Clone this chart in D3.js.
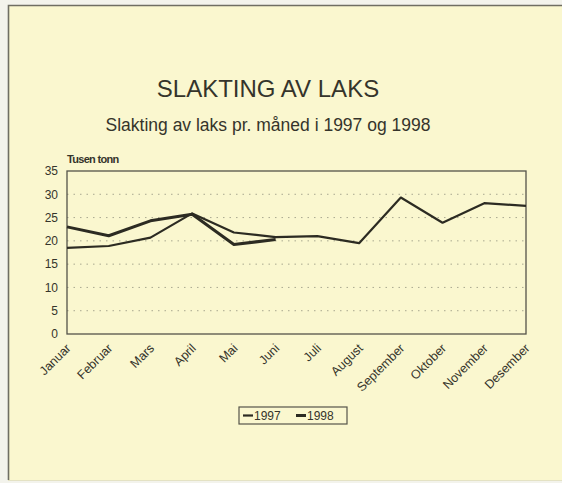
<!DOCTYPE html>
<html>
<head>
<meta charset="utf-8">
<title>Slakting av laks</title>
<script src="https://cdn.jsdelivr.net/npm/d3@7"></script>
<style>
  body { margin: 0; background: #f3f3ec; }
  text { font-family: "Liberation Sans", Arial, sans-serif; fill: #35342b; }
  .grid line { stroke: #a9a890; stroke-dasharray: 1.5 5; }
</style>
</head>
<body>
<script>
// data (tusen tonn)
var months = ["Januar", "Februar", "Mars", "April", "Mai", "Juni", "Juli",
              "August", "September", "Oktober", "November", "Desember"];
var y1997 = [18.5, 18.9, 20.7, 25.9, 21.8, 20.8, 21.0, 19.5, 29.3, 23.9, 28.1, 27.5];
var y1998 = [23.0, 21.1, 24.3, 25.7, 19.2, 20.3];
var yTicks = [0, 5, 10, 15, 20, 25, 30, 35];

var width = 562, height = 483;
var m = {left: 67, right: 526, top: 171, bottom: 334};

var svg = d3.select("body").append("svg")
    .attr("width", width).attr("height", height);

// panel: dark top and left edge, faint bottom
svg.append("rect").attr("x", 8).attr("y", 5).attr("width", width - 8).attr("height", 475)
    .attr("fill", "#faf7cf");
svg.append("path").attr("d", "M8.5,480V5.5H562")
    .attr("fill", "none").attr("stroke", "#6f6e63").attr("stroke-width", 1.6);
svg.append("line").attr("x1", 8).attr("x2", 562).attr("y1", 480.5).attr("y2", 480.5)
    .attr("stroke", "#e4e2c4").attr("stroke-width", 1);

svg.append("text").attr("x", 268).attr("y", 97).attr("text-anchor", "middle")
    .style("font-size", "24px").text("SLAKTING AV LAKS");
svg.append("text").attr("x", 268).attr("y", 131).attr("text-anchor", "middle")
    .style("font-size", "17.5px").text("Slakting av laks pr. måned i 1997 og 1998");

var x = d3.scalePoint().domain(months).range([m.left, m.right]);
var y = d3.scaleLinear().domain([0, 35]).range([m.bottom, m.top]);

// gridlines
svg.append("g").attr("class", "grid")
  .selectAll("line").data(yTicks.slice(1, -1)).enter().append("line")
    .attr("x1", m.left).attr("x2", m.right)
    .attr("y1", function(d) { return y(d); }).attr("y2", function(d) { return y(d); });

// plot frame
svg.append("rect").attr("x", m.left).attr("y", m.top)
    .attr("width", m.right - m.left).attr("height", m.bottom - m.top)
    .attr("fill", "none").attr("stroke", "#55544a").attr("stroke-width", 1.3);

// y axis
var yAxis = svg.append("g").attr("transform", "translate(" + m.left + ",0)")
    .call(d3.axisLeft(y).tickValues(yTicks).tickSize(0).tickPadding(9));
yAxis.select(".domain").remove();
yAxis.selectAll("text").style("font-size", "12px").style("fill", "#35342b");

svg.append("text").attr("x", 67).attr("y", 163)
    .style("font-size", "11px").style("font-weight", "bold").style("letter-spacing", "-0.7px")
    .text("Tusen tonn");

// x axis
var xAxis = svg.append("g").attr("transform", "translate(0," + m.bottom + ")")
    .call(d3.axisBottom(x).tickSize(0).tickPadding(0));
xAxis.select(".domain").remove();
xAxis.selectAll("text")
    .style("font-size", "12.5px").style("fill", "#35342b")
    .attr("text-anchor", "end").attr("dy", null)
    .attr("transform", "translate(4,15) rotate(-45)");

// lines
var line = d3.line()
    .x(function(d, i) { return x(months[i]); })
    .y(function(d) { return y(d); });

svg.append("path").datum(y1997).attr("d", line)
    .attr("fill", "none").attr("stroke", "#2c2b22").attr("stroke-width", 2.2)
    .attr("stroke-linejoin", "round");
svg.append("path").datum(y1998).attr("d", line)
    .attr("fill", "none").attr("stroke", "#2c2b22").attr("stroke-width", 3)
    .attr("stroke-linejoin", "round");

// legend
var lg = svg.append("g").attr("transform", "translate(239,407)");
lg.append("rect").attr("width", 108).attr("height", 17)
    .attr("fill", "none").attr("stroke", "#55544a").attr("stroke-width", 1.2);
[["1997", 2.2], ["1998", 3]].forEach(function(s, i) {
  var g = lg.append("g").attr("transform", "translate(" + (4 + i * 53) + ",0)");
  g.append("line").attr("x1", 0).attr("x2", 10).attr("y1", 8.5).attr("y2", 8.5)
      .attr("stroke", "#2c2b22").attr("stroke-width", s[1]);
  g.append("text").attr("x", 11).attr("y", 13).style("font-size", "12px").text(s[0]);
});
</script>
</body>
</html>
